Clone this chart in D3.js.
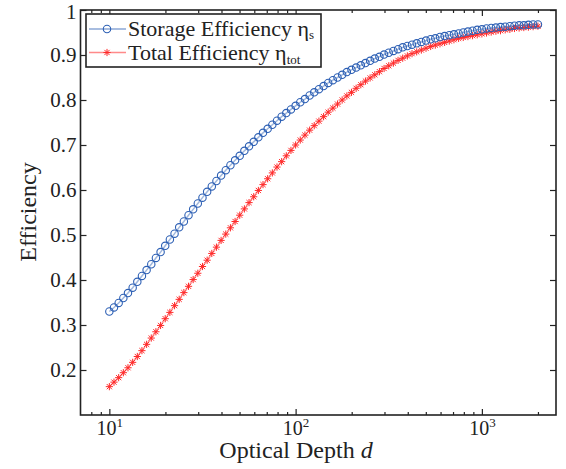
<!DOCTYPE html>
<html>
<head>
<meta charset="utf-8">
<script src="https://cdn.jsdelivr.net/npm/d3@7"></script>
<style>
  body { margin: 0; background: #fff; }
</style>
</head>
<body>
<div id="chart"></div>
<script>
// Optical depth d (log spaced, 10 .. 2000)
const depth = [
  10.00, 10.59, 11.22, 11.89, 12.59, 13.34, 14.13, 14.96, 15.85, 16.79,
  17.78, 18.84, 19.95, 21.13, 22.39, 23.71, 25.12, 26.61, 28.18, 29.85,
  31.62, 33.50, 35.48, 37.58, 39.81, 42.17, 44.67, 47.32, 50.12, 53.09,
  56.23, 59.57, 63.10, 66.83, 70.79, 74.99, 79.43, 84.14, 89.13, 94.41,
  100.0, 105.9, 112.2, 118.9, 125.9, 133.4, 141.3, 149.6, 158.5, 167.9,
  177.8, 188.4, 199.5, 211.3, 223.9, 237.1, 251.2, 266.1, 281.8, 298.5,
  316.2, 335.0, 354.8, 375.8, 398.1, 421.7, 446.7, 473.2, 501.2, 530.9,
  562.3, 595.7, 631.0, 668.3, 707.9, 749.9, 794.3, 841.4, 891.3, 944.1,
  1000, 1059, 1122, 1189, 1259, 1334, 1413, 1496, 1585, 1679,
  1778, 1884, 2000
];

// Storage efficiency eta_s
const etaS = [
  0.330, 0.339, 0.349, 0.360, 0.371, 0.383, 0.396, 0.409, 0.422, 0.435,
  0.449, 0.462, 0.476, 0.490, 0.503, 0.517, 0.530, 0.544, 0.557, 0.570,
  0.583, 0.596, 0.608, 0.620, 0.632, 0.644, 0.655, 0.666, 0.676, 0.687,
  0.697, 0.707, 0.717, 0.727, 0.736, 0.745, 0.754, 0.763, 0.771, 0.779,
  0.787, 0.795, 0.802, 0.810, 0.817, 0.824, 0.831, 0.838, 0.844, 0.850,
  0.856, 0.862, 0.867, 0.872, 0.877, 0.882, 0.887, 0.892, 0.896, 0.901,
  0.905, 0.909, 0.913, 0.917, 0.920, 0.923, 0.926, 0.929, 0.932, 0.935,
  0.937, 0.940, 0.942, 0.944, 0.946, 0.948, 0.950, 0.952, 0.954, 0.956,
  0.957, 0.959, 0.960, 0.961, 0.962, 0.963, 0.964, 0.965, 0.966, 0.966,
  0.967, 0.968, 0.968
];

// Total efficiency eta_tot
const etaTot = [
  0.163, 0.173, 0.183, 0.194, 0.205, 0.217, 0.230, 0.243, 0.257, 0.271,
  0.285, 0.299, 0.314, 0.328, 0.343, 0.357, 0.372, 0.386, 0.401, 0.415,
  0.430, 0.444, 0.459, 0.473, 0.488, 0.502, 0.516, 0.530, 0.544, 0.558,
  0.572, 0.585, 0.599, 0.612, 0.625, 0.638, 0.651, 0.663, 0.676, 0.688,
  0.700, 0.711, 0.722, 0.733, 0.743, 0.753, 0.763, 0.773, 0.782, 0.791,
  0.800, 0.809, 0.817, 0.826, 0.834, 0.842, 0.849, 0.856, 0.863, 0.870,
  0.876, 0.882, 0.888, 0.893, 0.898, 0.903, 0.907, 0.911, 0.915, 0.919,
  0.922, 0.925, 0.928, 0.931, 0.934, 0.937, 0.939, 0.941, 0.943, 0.945,
  0.947, 0.949, 0.951, 0.953, 0.954, 0.956, 0.957, 0.959, 0.960, 0.961,
  0.962, 0.963, 0.964
];

const xMajor = [10, 100, 1000];
const xMinor = [8, 9, 20, 30, 40, 50, 60, 70, 80, 90,
                200, 300, 400, 500, 600, 700, 800, 900, 2000];
const yTicks = [0.2, 0.3, 0.4, 0.5, 0.6, 0.7, 0.8, 0.9, 1];

const W = 566, H = 469;
const box = { left: 80.5, right: 556, top: 10, bottom: 415 };
const ink = "#222";
const serif = "'Liberation Serif', 'Times New Roman', serif";
const blue = "#2c5fb4";
const red = "#ff2a2a";

const svg = d3.select("#chart").append("svg")
  .attr("width", W).attr("height", H)
  .attr("font-family", serif);

const x = d3.scaleLog().domain([7, 2500]).range([box.left, box.right]);
const y = d3.scaleLinear().domain([0.1, 1]).range([box.bottom, box.top]);

// ejes
function styleAxis(g) {
  g.attr("font-family", serif);
  g.select(".domain").remove();
  g.selectAll(".tick line").attr("stroke", ink).attr("stroke-width", 1.2);
}

svg.append("g")
  .attr("transform", `translate(0,${box.bottom})`)
  .call(d3.axisBottom(x).tickValues(xMajor).tickSize(-6).tickPadding(6))
  .call(styleAxis)
  .call(g => g.selectAll(".tick text")
    .attr("font-size", 20).attr("fill", ink).attr("font-family", serif)
    .each(function(d) {
      const t = d3.select(this).text(null);
      t.append("tspan").text("10");
      t.append("tspan").attr("dy", -8).attr("font-size", 13).text(Math.round(Math.log10(d)));
    }));

svg.append("g")
  .attr("transform", `translate(0,${box.bottom})`)
  .call(d3.axisBottom(x).tickValues(xMinor).tickSize(-3).tickFormat(""))
  .call(styleAxis);

svg.append("g")
  .attr("transform", `translate(0,${box.top})`)
  .call(d3.axisTop(x).tickValues(xMajor).tickSize(-6).tickFormat(""))
  .call(styleAxis);

svg.append("g")
  .attr("transform", `translate(0,${box.top})`)
  .call(d3.axisTop(x).tickValues(xMinor).tickSize(-3).tickFormat(""))
  .call(styleAxis);

svg.append("g")
  .attr("transform", `translate(${box.left},0)`)
  .call(d3.axisLeft(y).tickValues(yTicks).tickSize(-6).tickPadding(4)
    .tickFormat(d => d === 1 ? "1" : d.toFixed(1)))
  .call(styleAxis)
  .call(g => g.selectAll(".tick text")
    .attr("font-size", 21).attr("fill", ink).attr("font-family", serif));

// el "1" de arriba un poco hacia abajo para que no se corte
svg.selectAll(".tick text").filter(d => d === 1).attr("dy", "0.42em");

svg.append("g")
  .attr("transform", `translate(${box.right},0)`)
  .call(d3.axisRight(y).tickValues(yTicks).tickSize(-6).tickFormat(""))
  .call(styleAxis);

svg.append("rect")
  .attr("x", box.left).attr("y", box.top)
  .attr("width", box.right - box.left).attr("height", box.bottom - box.top)
  .attr("fill", "none").attr("stroke", ink).attr("stroke-width", 1.6);

// series
const star = "M0,-3.6V3.6M-3.6,0H3.6M-2.6,-2.6L2.6,2.6M-2.6,2.6L2.6,-2.6";

const line = d3.line()
  .x((d, i) => x(depth[i]))
  .y(d => y(d));

const plot = svg.append("g");

plot.append("path").datum(etaTot)
  .attr("d", line).attr("fill", "none")
  .attr("stroke", red).attr("stroke-opacity", 0.45).attr("stroke-width", 1.5);

plot.append("g").selectAll("path").data(etaTot).join("path")
  .attr("transform", (d, i) => `translate(${x(depth[i])},${y(d)})`)
  .attr("d", star).attr("fill", "none")
  .attr("stroke", red).attr("stroke-width", 1);

plot.append("path").datum(etaS)
  .attr("d", line).attr("fill", "none")
  .attr("stroke", blue).attr("stroke-opacity", 0.45).attr("stroke-width", 1.5);

plot.append("g").selectAll("circle").data(etaS).join("circle")
  .attr("cx", (d, i) => x(depth[i]))
  .attr("cy", d => y(d))
  .attr("r", 3.7).attr("fill", "none")
  .attr("stroke", blue).attr("stroke-width", 1.1);

// titulos
svg.append("text")
  .attr("x", 296).attr("y", 458)
  .attr("text-anchor", "middle").attr("font-size", 24).attr("fill", ink)
  .call(t => {
    t.append("tspan").text("Optical Depth ");
    t.append("tspan").attr("font-style", "italic").text("d");
  });

svg.append("text")
  .attr("transform", "translate(36,212) rotate(-90)")
  .attr("text-anchor", "middle").attr("font-size", 24).attr("fill", ink)
  .text("Efficiency");

// leyenda
const legend = svg.append("g");
legend.append("rect")
  .attr("x", 86).attr("y", 14).attr("width", 235).attr("height", 53)
  .attr("fill", "#fff").attr("stroke", ink).attr("stroke-width", 1.6);

const items = [
  { label: "Storage Efficiency ", sub: "s", color: blue, kind: "circle", cy: 29, dy: 3 },
  { label: "Total Efficiency ", sub: "tot", color: red, kind: "star", cy: 52.5, dy: 4 }
];

items.forEach(it => {
  const g = legend.append("g");
  g.append("line")
    .attr("x1", 89).attr("x2", 126).attr("y1", it.cy).attr("y2", it.cy)
    .attr("stroke", it.color).attr("stroke-opacity", 0.55).attr("stroke-width", 1.5);
  if (it.kind === "circle") {
    g.append("circle").attr("cx", 107).attr("cy", it.cy).attr("r", 3.7)
      .attr("fill", "none").attr("stroke", it.color).attr("stroke-width", 1.1);
  } else {
    g.append("path").attr("transform", `translate(107,${it.cy})`)
      .attr("d", star).attr("fill", "none").attr("stroke", it.color).attr("stroke-width", 1);
  }
  const t = g.append("text")
    .attr("x", 128).attr("y", it.cy + 7).attr("font-size", 22).attr("fill", ink);
  t.append("tspan").text(it.label);
  t.append("tspan").text("η");
  t.append("tspan").attr("dy", it.dy).attr("font-size", 13).text(it.sub);
});
</script>
</body>
</html>
